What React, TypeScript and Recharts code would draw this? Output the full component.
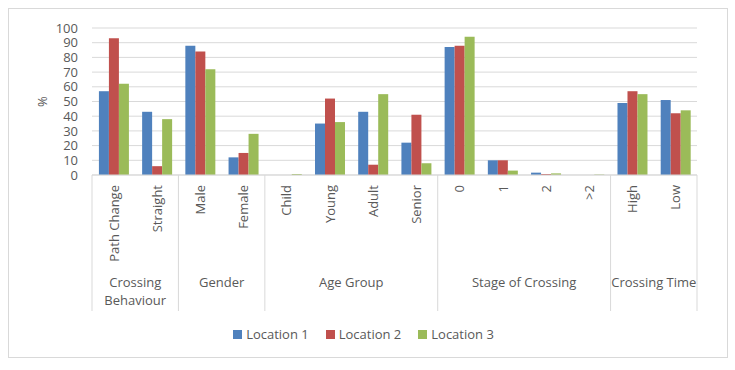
import { BarChart, Bar, XAxis, YAxis, CartesianGrid } from 'recharts'

const categories = ['Path Change', 'Straight', 'Male', 'Female', 'Child', 'Young', 'Adult', 'Senior', '0', '1', '2', '>2', 'High', 'Low']
const groupNames = ['Crossing Behaviour', 'Gender', 'Age Group', 'Stage of Crossing', 'Crossing Time']
const groupSizes = [2, 2, 4, 4, 2]

const location1 = [57, 43, 88, 12, 0, 35, 43, 22, 87, 10, 1.6, 0, 49, 51]
const location2 = [93, 6, 84, 15, 0, 52, 7, 41, 88, 10, 0.7, 0, 57, 42]
const location3 = [62, 38, 72, 28, 0.7, 36, 55, 8, 94, 3, 1.1, 0.3, 55, 44]

const yTicks = [0, 10, 20, 30, 40, 50, 60, 70, 80, 90, 100]

const series = [
  { key: 'loc1', name: 'Location 1', color: '#4f81bd' },
  { key: 'loc2', name: 'Location 2', color: '#c0504d' },
  { key: 'loc3', name: 'Location 3', color: '#9bbb59' },
]

const data = categories.map((c, i) => ({
  name: c,
  loc1: location1[i],
  loc2: location2[i],
  loc3: location3[i],
}))

const W = 735
const H = 370
const PLOT_LEFT = 92
const PLOT_RIGHT = 697
const FONT = '"Open Sans", sans-serif'
const TEXT = '#595959'
const LINE = '#d9d9d9'

// index of first category in each group
const groupStarts = groupSizes.map((_, g) => groupSizes.slice(0, g).reduce((a, b) => a + b, 0))

function CategoryTick(props: any) {
  const { x, y, index, payload } = props
  const half = (PLOT_RIGHT - PLOT_LEFT) / categories.length / 2
  const g = groupStarts.indexOf(index)
  const ty = y + 10
  let groupLabel = null
  if (g >= 0) {
    const cx = x - half + groupSizes[g] * half
    const name = groupNames[g]
    const lines = name.length * 6.5 > groupSizes[g] * half * 2 ? name.split(' ') : [name]
    groupLabel = (
      <text x={cx} y={y + 112} textAnchor="middle" fill={TEXT} fontSize={13} fontFamily={FONT}>
        {lines.map((l, i) => (
          <tspan key={i} x={cx} dy={i === 0 ? 0 : 18}>{l}</tspan>
        ))}
      </text>
    )
  }
  return (
    <g>
      <text
        x={x}
        y={ty}
        transform={`rotate(-90, ${x}, ${ty})`}
        textAnchor="end"
        dominantBaseline="central"
        fill={TEXT}
        fontSize={13}
        fontFamily={FONT}
      >
        {payload.value}
      </text>
      {g >= 0 && <line x1={x - half} x2={x - half} y1={y} y2={y + 136} stroke={LINE} />}
      {index === categories.length - 1 && <line x1={x + half} x2={x + half} y1={y} y2={y + 136} stroke={LINE} />}
      {groupLabel}
    </g>
  )
}

export default function App() {
  return (
    <div style={{ position: 'absolute', left: 0, top: 0, width: W, height: H, fontFamily: FONT }}>
      <div
        style={{
          position: 'absolute',
          left: 8,
          top: 8,
          width: 718,
          height: 348,
          border: `1px solid ${LINE}`,
        }}
      />
      <div style={{ position: 'absolute', left: 0, top: 0 }}>
        <BarChart
          width={W}
          height={H}
          data={data}
          margin={{ top: 28, right: W - PLOT_RIGHT, bottom: 55, left: PLOT_LEFT - 60 }}
          barGap={0}
          barCategoryGap="16%"
        >
          <CartesianGrid vertical={false} stroke={LINE} />
          <XAxis
            dataKey="name"
            interval={0}
            height={140}
            tickSize={0}
            tickMargin={0}
            tickLine={false}
            axisLine={{ stroke: LINE }}
            tick={<CategoryTick />}
          />
          <YAxis
            width={60}
            domain={[0, 100]}
            ticks={yTicks}
            interval={0}
            tickSize={0}
            tickMargin={14}
            axisLine={false}
            tickLine={false}
            tick={{ fill: TEXT, fontSize: 13, fontFamily: FONT }}
            label={{ value: '%', angle: -90, position: 'center', dx: -20, fill: TEXT, fontSize: 13, fontFamily: FONT }}
          />
          {series.map((s) => (
            <Bar key={s.key} dataKey={s.key} name={s.name} fill={s.color} isAnimationActive={false} />
          ))}
        </BarChart>
      </div>
      <div
        style={{
          position: 'absolute',
          left: 0,
          top: 324,
          width: 727,
          display: 'flex',
          justifyContent: 'center',
          gap: 17,
          fontSize: 13,
          color: TEXT,
        }}
      >
        {series.map((s) => (
          <div key={s.key} style={{ display: 'flex', alignItems: 'center', height: 20 }}>
            <span style={{ width: 9, height: 9, background: s.color, marginRight: 4, display: 'inline-block' }} />
            <span>{s.name}</span>
          </div>
        ))}
      </div>
    </div>
  )
}
